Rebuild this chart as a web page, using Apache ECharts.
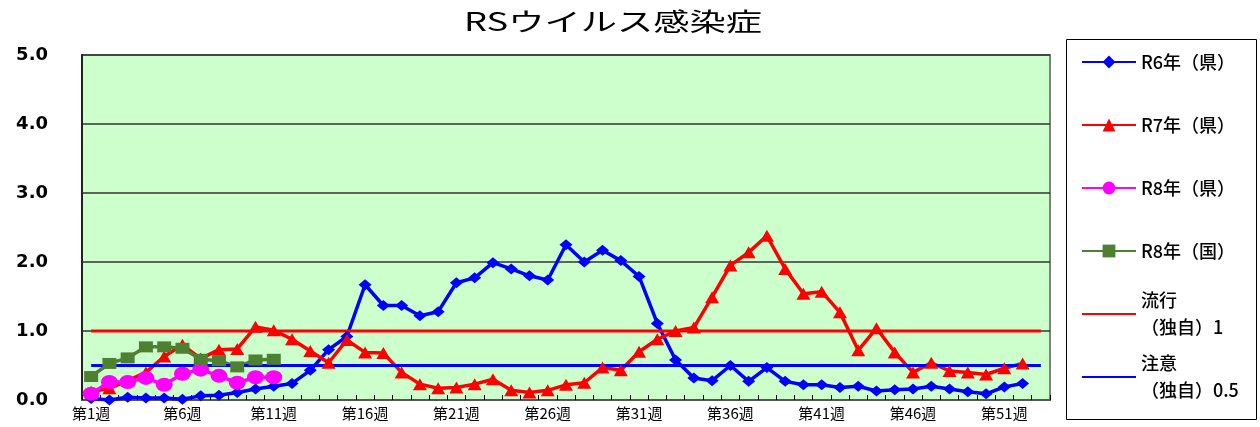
<!DOCTYPE html>
<html><head><meta charset="utf-8">
<script src="https://cdn.jsdelivr.net/npm/echarts@6/dist/echarts.min.js"></script>
<style>html,body{margin:0;padding:0;background:#fff}#c{width:1260px;height:427px}</style>
</head><body><div id="c"></div>
<script>
const titleText = 'RSウイルス感染症';
const weeks = ['第1週','第2週','第3週','第4週','第5週','第6週','第7週','第8週','第9週','第10週',
  '第11週','第12週','第13週','第14週','第15週','第16週','第17週','第18週','第19週','第20週',
  '第21週','第22週','第23週','第24週','第25週','第26週','第27週','第28週','第29週','第30週',
  '第31週','第32週','第33週','第34週','第35週','第36週','第37週','第38週','第39週','第40週',
  '第41週','第42週','第43週','第44週','第45週','第46週','第47週','第48週','第49週','第50週',
  '第51週','第52週','第53週'];
const yLabels = ['0.0','1.0','2.0','3.0','4.0','5.0'];
const seriesNames = ['R6年（県）','R7年（県）','R8年（県）','R8年（国）','流行\n（独自）1','注意\n（独自）0.5'];
const r6 = [0.02,0.00,0.04,0.03,0.03,0.01,0.06,0.07,0.11,0.16,
  0.20,0.24,0.43,0.73,0.92,1.67,1.37,1.37,1.22,1.28,
  1.70,1.77,1.99,1.90,1.80,1.74,2.25,2.00,2.17,2.02,
  1.79,1.11,0.58,0.32,0.28,0.50,0.27,0.47,0.27,0.22,
  0.22,0.18,0.20,0.13,0.15,0.16,0.20,0.16,0.12,0.09,
  0.19,0.24];
const r7 = [0.12,0.17,0.28,0.40,0.63,0.80,0.60,0.73,0.74,1.06,
  1.01,0.88,0.71,0.54,0.87,0.69,0.68,0.40,0.23,0.17,
  0.18,0.23,0.30,0.14,0.11,0.14,0.22,0.25,0.47,0.43,
  0.70,0.88,1.00,1.05,1.49,1.95,2.14,2.38,1.90,1.54,
  1.57,1.27,0.72,1.04,0.69,0.40,0.54,0.42,0.40,0.37,
  0.46,0.53];
const r8ken = [0.09,0.26,0.26,0.32,0.22,0.38,0.44,0.35,0.25,0.33,0.33];
const r8kuni = [0.34,0.53,0.61,0.77,0.77,0.75,0.59,0.57,0.48,0.58,0.59];
const ryuko = [1,1,1,1,1,1,1,1,1,1, 1,1,1,1,1,1,1,1,1,1, 1,1,1,1,1,1,1,1,1,1,
  1,1,1,1,1,1,1,1,1,1, 1,1,1,1,1,1,1,1,1,1, 1,1,1];
const chui = [0.5,0.5,0.5,0.5,0.5,0.5,0.5,0.5,0.5,0.5, 0.5,0.5,0.5,0.5,0.5,0.5,0.5,0.5,0.5,0.5,
  0.5,0.5,0.5,0.5,0.5,0.5,0.5,0.5,0.5,0.5, 0.5,0.5,0.5,0.5,0.5,0.5,0.5,0.5,0.5,0.5,
  0.5,0.5,0.5,0.5,0.5,0.5,0.5,0.5,0.5,0.5, 0.5,0.5,0.5];

const FONT = '"Noto Sans CJK JP", "Noto Sans", sans-serif';
const chart = echarts.init(document.getElementById('c'));
const lineSeries = (name, data, color, symbol, size, width) => ({
  name, type: 'line', data, symbol, symbolSize: size, showAllSymbol: true,
  lineStyle: { color, width }, itemStyle: { color }, emphasis: { disabled: true }
});
chart.setOption({
  animation: false,
  backgroundColor: '#ffffff',
  graphic: [
    { type: 'text', x: 613, y: 21, scaleX: 1.45, z: 10,
      style: { text: titleText, x: 0, y: 0, align: 'center', verticalAlign: 'middle',
        font: '25px "Noto Sans CJK JP"', fill: '#000' } },
    { type: 'rect', z: 0, silent: true,
      shape: { x: 1066.5, y: 39.5, width: 190, height: 380 },
      style: { fill: 'none', stroke: '#000', lineWidth: 1 } }
  ],
  grid: { left: 82, right: 210, top: 55, bottom: 27, show: true,
    backgroundColor: '#CCFFCC', borderColor: '#808080', borderWidth: 2 },
  xAxis: { type: 'category', data: weeks, boundaryGap: true,
    axisLine: { lineStyle: { color: '#555', width: 2 } },
    axisTick: { show: true, inside: true, length: 5, interval: 0, lineStyle: { color: '#000' } },
    axisLabel: { interval: 4, margin: 6, fontSize: 15, color: '#000', fontFamily: FONT },
    splitLine: { show: false } },
  yAxis: { type: 'value', min: 0, max: 5, interval: 1,
    axisLine: { show: true, lineStyle: { color: '#222', width: 2 } },
    axisTick: { show: false },
    axisLabel: { formatter: v => yLabels[Math.round(v)], margin: 34, fontSize: 18, color: '#000',
      fontFamily: 'DejaVu Sans', fontWeight: 'bold' },
    splitLine: { lineStyle: { color: '#333', width: 1.5 } } },
  legend: {
    orient: 'vertical', left: 1081, top: 21.5, padding: 0, itemGap: -18,
    itemWidth: 54, itemHeight: 16, selectedMode: false,
    textStyle: { fontSize: 18, color: '#000', fontFamily: FONT, fontWeight: 500, lineHeight: 27, padding: [27, 0, 27, 0] },
    data: [
      { name: seriesNames[0] }, { name: seriesNames[1] }, { name: seriesNames[2] }, { name: seriesNames[3] },
      { name: seriesNames[4], itemStyle: { color: 'rgba(0,0,0,0)', borderWidth: 0 }, textStyle: { padding: [27, 0, 0, 0] } },
      { name: seriesNames[5], itemStyle: { color: 'rgba(0,0,0,0)', borderWidth: 0 }, textStyle: { padding: [27, 0, 0, 0] } }
    ]
  },
  series: [
    lineSeries(seriesNames[0], r6, '#0000FF', 'diamond', [13, 11], 3.5),
    lineSeries(seriesNames[1], r7, '#FF0000', 'triangle', [14, 12], 3.5),
    lineSeries(seriesNames[2], r8ken, '#FF00FF', 'circle', [17, 14], 3.5),
    lineSeries(seriesNames[3], r8kuni, '#4F7F31', 'rect', [14, 11], 3.5),
    lineSeries(seriesNames[4], ryuko, '#FF0000', 'none', 0, 3),
    lineSeries(seriesNames[5], chui, '#0000FF', 'none', 0, 3)
  ]
});
</script></body></html>
